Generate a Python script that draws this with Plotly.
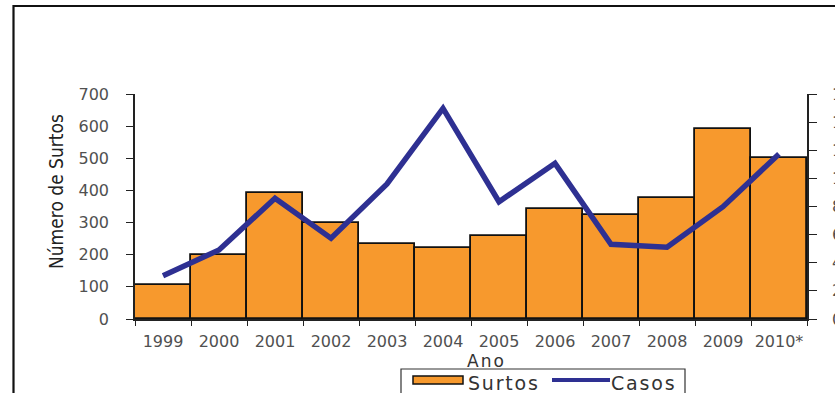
import plotly.graph_objects as go

# Dados: surtos (barras, eixo esquerdo) e casos (linha, eixo direito)
anos = ["1999", "2000", "2001", "2002", "2003", "2004",
        "2005", "2006", "2007", "2008", "2009", "2010*"]
surtos = [105, 198, 393, 300, 234, 222, 259, 342, 324, 375, 591, 500]
casos = [308, 491, 858, 574, 960, 1498, 834, 1107, 531, 510, 799, 1173]

esq_ticks = [0, 100, 200, 300, 400, 500, 600, 700]
dir_ticks = [0, 200, 400, 600, 800, 1000, 1200, 1400, 1600]

LARANJA = "#F7992D"
AZUL = "#2E3092"
CINZA = "#505050"
FONTE = "DejaVu Sans, Verdana, Arial, sans-serif"
FONTE_ESTREITA = "Liberation Sans Narrow, DejaVu Sans Condensed, Arial Narrow, sans-serif"

W, H = 835, 393
PL, PR, PT, PB = 135, 807, 94, 319  # plot area in pixels


def px(x):
    return (x - PL) / (PR - PL)


def py(y):
    return (PB - y) / (PB - PT)


def espacado(texto, ls):
    return f'<span style="letter-spacing:{ls}px">{texto}</span>'


fig = go.Figure()

fig.add_trace(go.Bar(
    x=anos, y=surtos, name="Surtos",
    marker=dict(color=LARANJA, line=dict(color="#111111", width=1.8)),
    yaxis="y",
))
fig.add_trace(go.Scatter(
    x=anos, y=casos, name="Casos", mode="lines",
    line=dict(color=AZUL, width=5.5),
    yaxis="y2",
))

eixo_y_comum = dict(
    showgrid=False, zeroline=False, fixedrange=True, automargin=False,
)

fig.update_layout(
    width=W, height=H, autosize=False,
    margin=dict(l=PL, r=W - PR, t=PT, b=H - PB, pad=0),
    paper_bgcolor="white", plot_bgcolor="white",
    showlegend=False, bargap=0,
    xaxis=dict(
        type="category", tickson="boundaries", tickangle=0,
        ticks="outside", ticklen=5, tickwidth=1.2, tickcolor="#222",
        showline=True, linecolor="#222", linewidth=1.5,
        showgrid=False, zeroline=False, automargin=False,
        tickfont=dict(family=FONTE, size=16, color=CINZA),
        ticklabelstandoff=7,
        range=[-0.5, 11.5],
    ),
    yaxis=dict(
        range=[0, 700], tickvals=esq_ticks,
        ticks="outside", ticklen=7, tickwidth=1.2, tickcolor="#222",
        showline=True, linecolor="#222", linewidth=1.5,
        tickfont=dict(family=FONTE, size=16, color=CINZA),
        ticklabelstandoff=14,
        **eixo_y_comum,
    ),
    yaxis2=dict(
        range=[0, 1600], tickvals=dir_ticks,
        overlaying="y", side="right", anchor="x",
        ticks="outside", ticklen=8, tickwidth=1.2, tickcolor="#222",
        showline=True, linecolor="#222", linewidth=1.5,
        tickfont=dict(family=FONTE, size=16, color=CINZA),
        ticklabelstandoff=12,
        **eixo_y_comum,
    ),
    # inner halves of the crossing tick marks
    yaxis3=dict(
        range=[0, 700], tickvals=esq_ticks, overlaying="y", side="left",
        anchor="x", ticks="inside", ticklen=7, tickwidth=1.2,
        tickcolor="#222", showticklabels=False, showline=False,
        **eixo_y_comum,
    ),
    yaxis4=dict(
        range=[0, 1600], tickvals=dir_ticks, overlaying="y", side="right",
        anchor="x", ticks="inside", ticklen=8, tickwidth=1.2,
        tickcolor="#222", showticklabels=False, showline=False,
        **eixo_y_comum,
    ),
)

# Títulos dos eixos
fig.add_annotation(
    text="Número de Surtos", textangle=-90,
    xref="paper", yref="paper", x=px(56), y=py(192),
    xanchor="center", yanchor="middle", showarrow=False,
    font=dict(family=FONTE_ESTREITA, size=19, color="#222"),
)
fig.add_annotation(
    text=espacado("Ano", 2), xref="paper", yref="paper", x=px(486), y=py(361),
    xanchor="center", yanchor="middle", showarrow=False,
    font=dict(family=FONTE, size=17, color="#333"),
)

# Legenda
fig.add_shape(type="rect", xref="paper", yref="paper",
              x0=px(401), x1=px(685), y0=py(369), y1=py(420),
              line=dict(color="#333", width=1.2), fillcolor="rgba(0,0,0,0)")
fig.add_shape(type="rect", xref="paper", yref="paper",
              x0=px(413), x1=px(463), y0=py(376), y1=py(384),
              line=dict(color="#111", width=1.5), fillcolor=LARANJA)
fig.add_annotation(
    text=espacado("Surtos", 1.8), xref="paper", yref="paper", x=px(466), y=py(383),
    xanchor="left", yanchor="middle", showarrow=False,
    font=dict(family=FONTE, size=19, color="#333"),
)
fig.add_shape(type="line", xref="paper", yref="paper",
              x0=px(552), x1=px(610), y0=py(380), y1=py(380),
              line=dict(color=AZUL, width=4))
fig.add_annotation(
    text=espacado("Casos", 1.8), xref="paper", yref="paper", x=px(609), y=py(383),
    xanchor="left", yanchor="middle", showarrow=False,
    font=dict(family=FONTE, size=19, color="#333"),
)

# Moldura
fig.add_shape(type="rect", xref="paper", yref="paper",
              x0=px(13.5), x1=px(860), y0=py(6), y1=py(430),
              line=dict(color="#111", width=2.2), fillcolor="rgba(0,0,0,0)",
              layer="above")

fig.write_html("out.html")
